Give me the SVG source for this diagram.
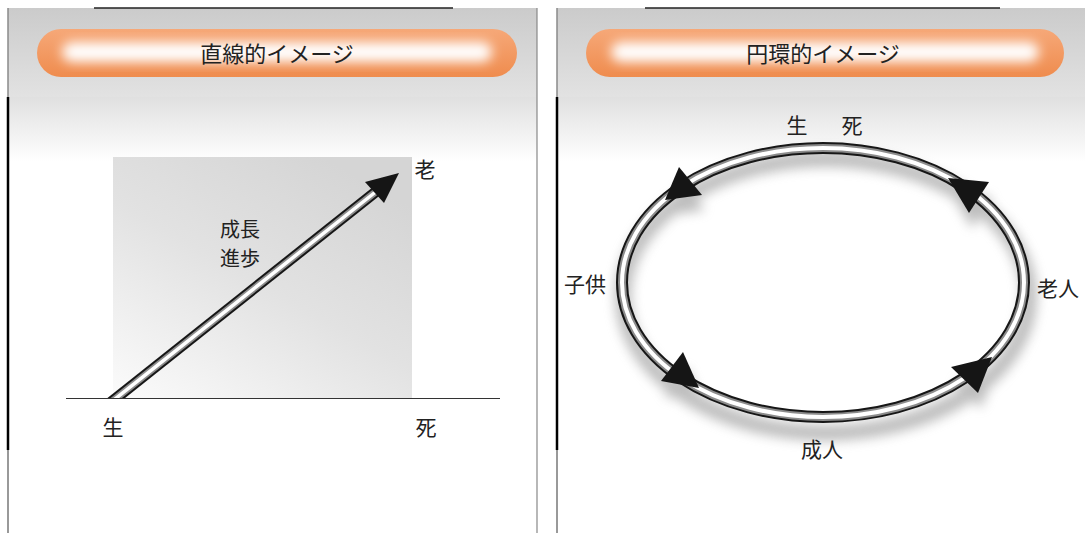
<svg xmlns="http://www.w3.org/2000/svg" width="1085" height="533" viewBox="0 0 1085 533">
<style>
.lbl{font-family:"Noto Sans CJK JP","Noto Sans CJK SC",sans-serif;font-size:21px;fill:#222;text-anchor:middle;dominant-baseline:central}
.ttl{font-family:"Noto Sans CJK JP","Noto Sans CJK SC",sans-serif;font-size:22px;fill:#222;text-anchor:middle;dominant-baseline:central}
.t1{fill:none;stroke:#161616}
.t2{fill:none;stroke:#8c8c8c}
.t3{fill:none;stroke:#ffffff}
.head{fill:#151515}
</style>
<defs>
<linearGradient id="band" x1="0" y1="0" x2="0" y2="1"><stop offset="0" stop-color="#cbcbcb"/><stop offset="1" stop-color="#e2e2e2"/></linearGradient>
<linearGradient id="fade" x1="0" y1="0" x2="0" y2="1"><stop offset="0" stop-color="#e0e0e0"/><stop offset="1" stop-color="#ffffff"/></linearGradient>
<linearGradient id="pill" x1="0" y1="0" x2="0" y2="1"><stop offset="0" stop-color="#f6a878"/><stop offset="1" stop-color="#ef8c4e"/></linearGradient>
<linearGradient id="box" x1="0" y1="1" x2="0.7" y2="0"><stop offset="0" stop-color="#fbfbfb"/><stop offset="0.55" stop-color="#e2e2e2"/><stop offset="1" stop-color="#d5d5d5"/></linearGradient>
<filter id="glow" x="-10%" y="-50%" width="120%" height="200%"><feGaussianBlur stdDeviation="6"/></filter>
<filter id="shadow" x="-10%" y="-10%" width="120%" height="130%"><feGaussianBlur stdDeviation="6"/></filter>
<clipPath id="above"><rect x="0" y="0" width="545" height="398"/></clipPath>
</defs>

<g id="panel-left">
<rect x="8" y="8" width="529" height="89" fill="url(#band)"/>
<rect x="8" y="97" width="529" height="65" fill="url(#fade)"/>
<line x1="94" y1="8" x2="453" y2="8" stroke="#222" stroke-width="1.5"/>
<line x1="8" y1="8" x2="8" y2="97" stroke="#8a8a8a" stroke-width="1.5"/>
<line x1="8" y1="97" x2="8" y2="450" stroke="#000" stroke-width="2.5"/>
<line x1="8" y1="450" x2="8" y2="533" stroke="#777" stroke-width="1.5"/>
<line x1="537" y1="8" x2="537" y2="533" stroke="#888" stroke-width="1.2"/>
</g>
<g id="title-left">
<rect x="37" y="29" width="480" height="48" rx="24" fill="url(#pill)"/>
<rect x="62" y="42" width="430" height="20" rx="10" fill="#fff" filter="url(#glow)"/>
<text class="ttl" x="277" y="52">直線的イメージ</text>
</g>

<g id="panel-right">
<rect x="557" y="8" width="528" height="89" fill="url(#band)"/>
<rect x="557" y="97" width="528" height="65" fill="url(#fade)"/>
<line x1="645" y1="8" x2="1000" y2="8" stroke="#222" stroke-width="1.5"/>
<line x1="557" y1="8" x2="557" y2="97" stroke="#8a8a8a" stroke-width="1.5"/>
<line x1="557" y1="97" x2="557" y2="450" stroke="#000" stroke-width="2.5"/>
<line x1="557" y1="450" x2="557" y2="533" stroke="#777" stroke-width="1.5"/>
</g>
<g id="title-right">
<rect x="586" y="29" width="478" height="48" rx="24" fill="url(#pill)"/>
<rect x="611" y="42" width="428" height="20" rx="10" fill="#fff" filter="url(#glow)"/>
<text class="ttl" x="823" y="52">円環的イメージ</text>
</g>

<g id="chart-box">
<rect x="113" y="157" width="299" height="241" fill="url(#box)"/>
<line x1="66" y1="398.5" x2="500" y2="398.5" stroke="#333" stroke-width="1.2"/>
</g>

<g id="ring-shadow" filter="url(#shadow)" opacity="0.55">
<ellipse cx="826" cy="296" rx="203" ry="137" fill="none" stroke="#888" stroke-width="16"/>
<polygon points="682,182 705,210 668,215" fill="#888"/>
<polygon points="951,193 992,197 972,228" fill="#888"/>
<polygon points="686,367 664,396 702,403" fill="#888"/>
<polygon points="954,382 995,372 981,408" fill="#888"/>
</g>

<g id="connectors">
<g id="arrow-linear" clip-path="url(#above)">
<line class="t1" x1="110" y1="403" x2="378" y2="190" stroke-width="11"/>
<line class="t2" x1="110" y1="403" x2="378" y2="190" stroke-width="7"/>
<line class="t3" x1="110" y1="403" x2="378" y2="190" stroke-width="3.5"/>
</g>
<polygon class="head" points="365,182 399,173 384,203"/>
<g id="cycle">
<ellipse class="t1" cx="823" cy="282.5" rx="201" ry="134.5" stroke-width="12"/>
<ellipse class="t2" cx="823" cy="282.5" rx="201" ry="134.5" stroke-width="8"/>
<ellipse class="t3" cx="823" cy="282.5" rx="201" ry="134.5" stroke-width="4"/>
<polygon class="head" points="679,167 702,195 665,200"/>
<polygon class="head" points="948,178 989,182 969,213"/>
<polygon class="head" points="683,352 661,381 699,388"/>
<polygon class="head" points="951,367 992,357 978,393"/>
</g>
</g>

<g id="node-oi"><text class="lbl" x="425" y="168">老</text></g>
<g id="node-sei"><text class="lbl" x="113" y="426">生</text></g>
<g id="node-shi"><text class="lbl" x="426" y="426">死</text></g>
<g id="node-seicho"><text class="lbl" x="240" y="228" style="font-size:20px">成長</text><text class="lbl" x="240" y="257" style="font-size:20px">進歩</text></g>

<g id="node-seishi"><text class="lbl" x="797" y="124">生</text><text class="lbl" x="852" y="124">死</text></g>
<g id="node-kodomo"><text class="lbl" x="585" y="283">子供</text></g>
<g id="node-rojin"><text class="lbl" x="1058" y="287">老人</text></g>
<g id="node-seijin"><text class="lbl" x="822" y="448">成人</text></g>
</svg>
